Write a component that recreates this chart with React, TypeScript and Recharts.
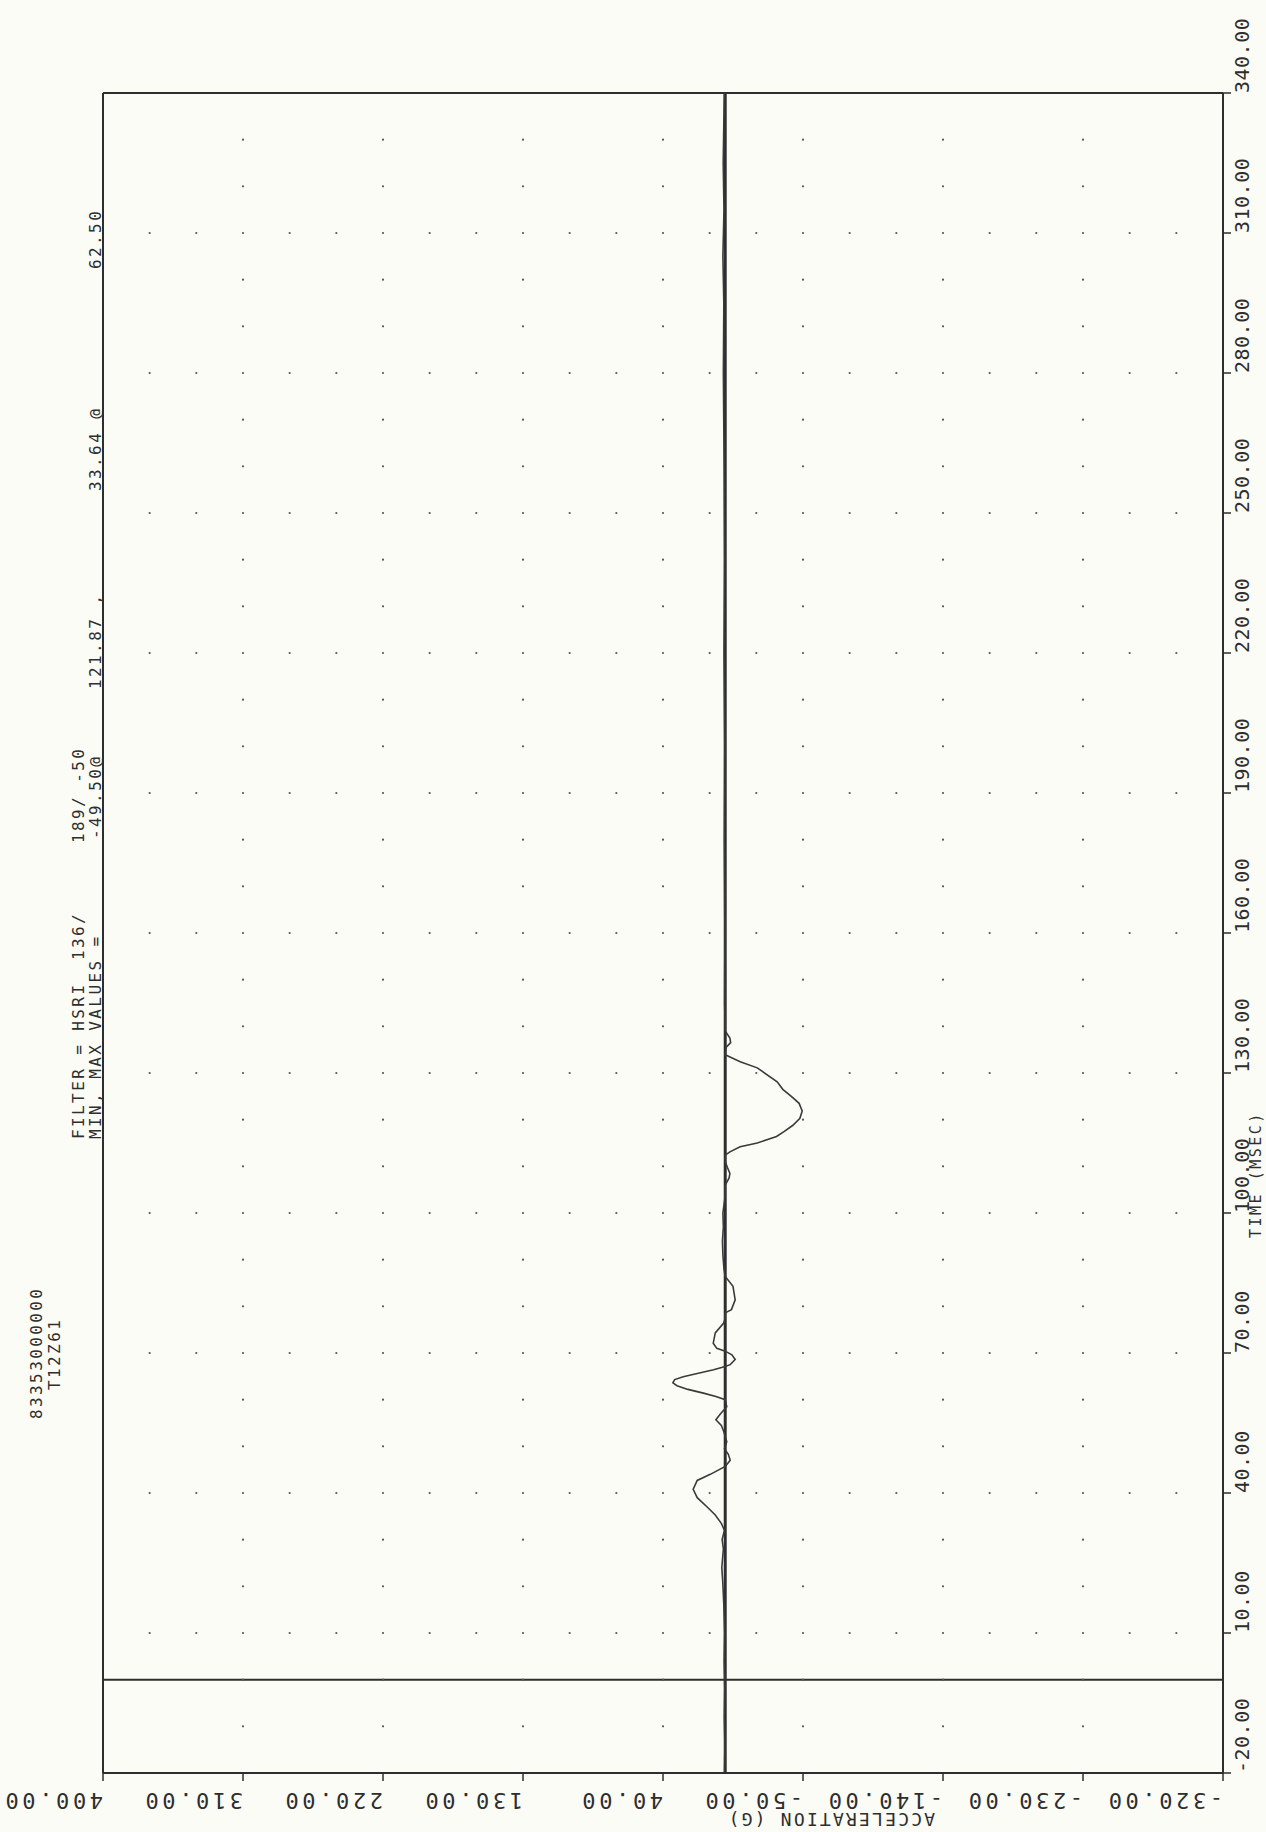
import React from 'react';
import { LineChart, Line, XAxis, YAxis, ReferenceLine, ReferenceDot } from 'recharts';

// ---- data ----
const timeMs = [
  -20, -14, -8, -2, 4, 10, 16, 21, 24, 28, 30, 32, 33.5, 35.3, 37, 39, 40.8, 42.7, 44, 45.7,
  47, 48.3, 49.5, 51, 53, 54.5, 55.7, 57, 58.5, 60, 60.7, 61.4, 62.2, 63, 63.6, 64.3, 64.9, 65.6, 66.4, 67.1,
  67.5, 68.6, 69.6, 70.4, 71, 72.1, 74.3, 76.4, 77.5, 78.6, 79.3, 81.4, 84.3, 86.4, 88, 91, 94, 97, 100, 103,
  106, 107.5, 108.5, 109.7, 111, 112.4, 113.1, 114.2, 115, 116.4, 117.5, 118.8, 120.3, 121.87, 123.5, 125, 126.5, 128.1, 131.1, 132.4,
  133.9, 135.5, 136.5, 137.5, 139, 145, 160, 180, 200, 220, 240, 260, 280, 295, 305, 315, 325, 340,
];
const accelG = [
  0.5, 0.2, 0.6, 0.3, 0.7, 0.4, 0.9, 1.6, 2.2, 1.2, 2, 0.5, 2.5, 6.4, 11.6, 18, 20.6, 18, 9.6, 0,
  -3.2, -2, 0.5, -1, 0.8, 2.5, 6, 3, -1, 0, 6, 14, 24, 31, 33.64, 32.5, 27, 18, 7.5, 0,
  -3.2, -6.4, -4.3, 0, 5.4, 7.7, 6.4, 1, 0, 0, -4, -6.4, -5, 0, 0.8, 1.5, 1.8, 1.2, 1.5, 0.3,
  0, -2.5, -3, -1.5, 0, 0, -3, -9.6, -20.6, -33, -38, -43.5, -48, -49.5, -47.5, -42.5, -37, -33.4, -20.6, -9.6,
  0, -0.5, -3.5, -3, 0, 0.4, 0.2, 0.6, 0.3, 0.8, 0.4, 0.7, 1.2, 0.9, 1.5, 0.8, 1.3, 0.6,
];

const accTicks = [400, 310, 220, 130, 40, -50, -140, -230, -320];
const accTickLabels = ['400.00', '310.00', '220.00', '130.00', '40.00', '-50.00', '-140.00', '-230.00', '-320.00'];
const timeTicks = [-20, 10, 40, 70, 100, 130, 160, 190, 220, 250, 280, 310, 340];
const timeTickLabels = ['-20.00', '10.00', '40.00', '70.00', '100.00', '130.00', '160.00', '190.00', '220.00', '250.00', '280.00', '310.00', '340.00'];

const accTitle = 'ACCELERATION        (G)';
const timeTitle = 'TIME (MSEC)';
const headerIds = ['83353000000', 'T12Z61'];
const filterLine = ['FILTER = HSRI', '136/', '189/ -50'];
const minMaxLine = ['MIN, MAX VALUES =', '-49.50@', '121.87 ,', '33.64 @', '62.50'];

const traceData = timeMs.map((t, i) => ({ time: t, acc: accelG[i] }));

// grid dot positions (every 30 G on major time rows, every 90 G on minor time rows)
const majorRows: number[] = [];
for (let t = 10; t <= 310; t += 30) majorRows.push(t);
const minorRows: number[] = [];
for (let t = -10; t <= 330; t += 10) if ((t + 20) % 30 !== 0) minorRows.push(t);
const minorCols: number[] = [];
for (let a = 370; a >= -290; a -= 30) minorCols.push(a);
const majorCols = accTicks.filter((a) => a !== 400 && a !== -320);

const gridDots: { x: number; y: number }[] = [];
majorRows.forEach((t) => minorCols.forEach((a) => gridDots.push({ x: a, y: t })));
minorRows.forEach((t) => majorCols.forEach((a) => gridDots.push({ x: a, y: t })));

// ---- styling ----
const W = 1266;
const H = 1832;
const INK = '#2e2e2e';
const FONT = '"DejaVu Sans Mono", "Liberation Mono", monospace';

const AccTick = (props: any) => {
  const { x, y, payload } = props;
  const idx = accTicks.indexOf(payload.value);
  const label = idx >= 0 ? accTickLabels[idx] : String(payload.value);
  const yb = y + 10;
  return (
    <text x={x} y={yb} transform={`rotate(180 ${x} ${yb})`} textAnchor="start"
      fontFamily={FONT} fontSize={22} letterSpacing={3.6} fill={INK}>
      {label}
    </text>
  );
};

const TimeTick = (props: any) => {
  const { x, y, payload } = props;
  const idx = timeTicks.indexOf(payload.value);
  const label = idx >= 0 ? timeTickLabels[idx] : String(payload.value);
  const xb = x + 16;
  return (
    <text x={xb} y={y} transform={`rotate(-90 ${xb} ${y})`} textAnchor="start"
      fontFamily={FONT} fontSize={20} letterSpacing={0.5} fill={INK}>
      {label}
    </text>
  );
};

const VText = ({ x, y, children, size = 16, spacing = 2.4 }: any) => (
  <text x={x} y={y} transform={`rotate(-90 ${x} ${y})`} textAnchor="start"
    fontFamily={FONT} fontSize={size} letterSpacing={spacing} fill={INK}>
    {children}
  </text>
);

export default function App() {
  const filterY = [1139, 960, 843];
  const minMaxY = [1139, 839, 689, 491, 269];
  return (
    <div style={{ position: 'absolute', left: 0, top: 0, width: W, height: H, background: '#fcfcf6', overflow: 'hidden' }}>
      <LineChart width={W} height={H} data={traceData}
        margin={{ top: 93, left: 103, right: 0, bottom: 0 }}>
        <XAxis dataKey="acc" type="number" domain={[-320, 400]} reversed
          ticks={accTicks} interval={0} tickSize={8} height={59}
          axisLine={{ stroke: INK, strokeWidth: 2 }} tickLine={{ stroke: INK, strokeWidth: 1.5 }}
          tick={<AccTick />} />
        <YAxis type="number" domain={[-20, 340]} orientation="right" width={43}
          ticks={timeTicks} interval={0} tickSize={8}
          axisLine={{ stroke: INK, strokeWidth: 2 }} tickLine={{ stroke: INK, strokeWidth: 1.5 }}
          tick={<TimeTick />} />
        {gridDots.map((d, i) => (
          <ReferenceDot key={i} x={d.x} y={d.y} r={1.1} fill="#555" stroke="none" />
        ))}
        <ReferenceLine y={340} stroke={INK} strokeWidth={2} />
        <ReferenceLine x={400} stroke={INK} strokeWidth={2} />
        <ReferenceLine y={0} stroke={INK} strokeWidth={2} />
        <ReferenceLine x={0} stroke={INK} strokeWidth={3} />
        <Line dataKey="time" type="linear" stroke="#3a3a3a" strokeWidth={1.6} dot={false}
          isAnimationActive={false} />
      </LineChart>
      <svg width={W} height={H} style={{ position: 'absolute', left: 0, top: 0, pointerEvents: 'none' }}>
        <VText x={42} y={1419}>{headerIds[0]}</VText>
        <VText x={60} y={1390}>{headerIds[1]}</VText>
        {filterLine.map((s, i) => <VText key={'f' + i} x={84} y={filterY[i]}>{s}</VText>)}
        {minMaxLine.map((s, i) => <VText key={'m' + i} x={101} y={minMaxY[i]}>{s}</VText>)}
        <VText x={1261} y={1238} size={15} spacing={2.5}>{timeTitle}</VText>
        <text x={935} y={1813} transform={`rotate(180 935 1813)`} textAnchor="start"
          fontFamily={FONT} fontSize={18} letterSpacing={2.2} fill={INK}>{accTitle}</text>
      </svg>
    </div>
  );
}
